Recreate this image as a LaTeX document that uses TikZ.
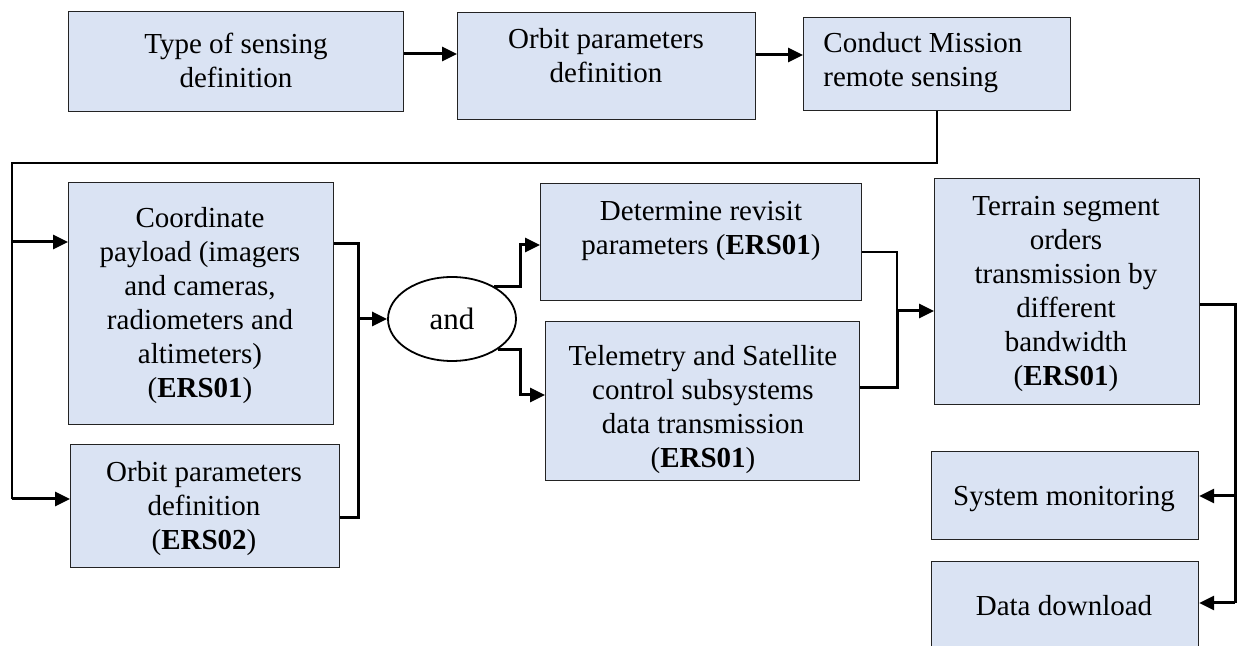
\documentclass[tikz,border=0pt]{standalone}
\usepackage{fontspec}
\setmainfont{Liberation Serif}
\usetikzlibrary{arrows.meta,shapes.geometric}

\definecolor{boxfill}{RGB}{218,227,243}
\definecolor{boxline}{RGB}{35,35,35}
\newcommand\bodyfont{\fontsize{14.5}{17}\selectfont}

% rectangle given by its top-left and bottom-right corners
\newcommand\flowbox[5]{%
  \node[box,minimum width={(#4-#2)*0.5pt},minimum height={(#5-#3)*0.5pt}] (#1) at (#2,#3) {};}

\begin{document}
\begin{tikzpicture}[x=0.5pt,y=-0.5pt,
  box/.style={draw=boxline,line width=0.6pt,fill=boxfill,inner sep=0pt,anchor=north west},
  txt/.style={font=\bodyfont,align=center,inner sep=0pt,anchor=north,yshift=11.9pt},
  txtl/.style={font=\bodyfont,align=left,inner sep=0pt,anchor=north west,yshift=11.9pt},
  thk/.style={line width=1.5pt,black},
  thn/.style={line width=0.6pt,black},
  arr/.style={-{Triangle[length=7.5pt,width=7pt]}},
  andnode/.style={ellipse,draw,line width=0.9pt,fill=white,inner sep=0pt,
    minimum width=64pt,minimum height=42pt,font=\fontsize{15.5}{18}\selectfont}]
\useasboundingbox (0,0) rectangle (1243,646);

% boxes
\flowbox{b1}{68}{11}{403}{111}
\flowbox{b2}{457}{12}{755}{119}
\flowbox{b3}{803}{17}{1070}{110}
\flowbox{coord}{68}{182}{333}{424}
\flowbox{ers2}{70}{444}{339}{567}
\flowbox{det}{540}{183}{861}{300}
\flowbox{tel}{545}{321}{859}{480}
\flowbox{ter}{934}{178}{1199}{404}
\flowbox{sys}{931}{451}{1198}{539}
\flowbox{dd}{931}{561}{1198}{652}
\node[andnode] (and) at (452,319) {and};

% box texts (placed by first baseline)
\node[txt] (t1) at (236,53) {\strut Type of sensing\\definition};
\node[txt] (t2) at (606,48) {\strut Orbit parameters\\definition};
\node[txtl] (t3) at (823,52) {\strut Conduct Mission\\remote sensing};
\node[txt] (t4) at (200,227) {\strut Coordinate\\payload (imagers\\and cameras,\\radiometers and\\altimeters)\\(\textbf{ERS01})};
\node[txt] (t5) at (204,481) {\strut Orbit parameters\\definition\\(\textbf{ERS02})};
\node[txt] (t6) at (701,220) {\strut Determine revisit\\parameters (\textbf{ERS01})};
\node[txt] (t7) at (703,365) {\strut Telemetry and Satellite\\control subsystems\\data transmission\\(\textbf{ERS01})};
\node[txt] (t8) at (1066,215) {\strut Terrain segment\\orders\\transmission by\\different\\bandwidth\\(\textbf{ERS01})};
\node[txt] (t9) at (1064,505) {\strut System monitoring};
\node[txt] (t10) at (1064,615) {\strut Data download};

% junction points
\coordinate (dn) at (937,163);
\coordinate (sp1) at (12,242);
\coordinate (sp2) at (12,499);
\coordinate (jl) at (358,319);
\coordinate (jm) at (520,319);
\coordinate (jt) at (897,311);
\coordinate (jd) at (1235,305);

% top row
\draw[thk,arr] (b1.east |- 0,54) -- (b2.west |- 0,54);
\draw[thk,arr] (b2.east |- 0,55) -- (b3.west |- 0,55);

% feed back to the left column
\draw[thn] (b3.south -| dn) -- (dn) -| (sp2);
\draw[thk,arr] (sp1) -- (coord.west |- sp1);
\draw[thk,arr] (sp2) -- (ers2.west |- sp2);

% left column into the "and" node
\draw[thk] (coord.east |- 0,244) -| (jl |- 0,518) -- (ers2.east |- 0,518);
\draw[thk,arr] (jl) -- (and.west);

% "and" node out to the middle column
\draw[thk,arr] (and.38) -- (and.38 -| jm) |- (det.west |- 0,245);
\draw[thk,arr] (and.-33) -- (and.-33 -| jm) |- (tel.west |- 0,395);

% middle column into the terrain segment
\draw[thn] (det.east |- 0,252) -| (jt);
\draw[thk] (tel.east |- 0,388) -| (jt);
\draw[thk,arr] (jt) -- (ter.west |- jt);

% terrain segment out to the last two steps
\draw[thk] (ter.east |- jd) -- (jd) -- (jd |- 0,603);
\draw[thk,arr] (jd |- 0,496) -- (sys.east |- 0,496);
\draw[thk,arr] (jd |- 0,603) -- (dd.east |- 0,603);
\end{tikzpicture}
\end{document}
